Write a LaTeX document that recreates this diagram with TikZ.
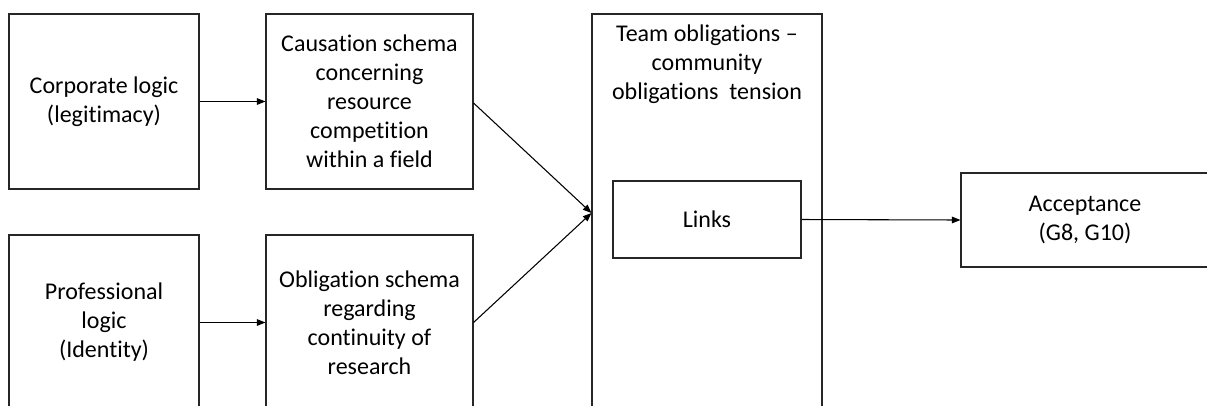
\documentclass[tikz,border=0pt]{standalone}
\usepackage{fontspec}
\setmainfont{Carlito}[Ligatures=NoCommon]
\usetikzlibrary{arrows.meta,calc}
\begin{document}
\begin{tikzpicture}[x=0.75pt,y=-0.75pt,
  every node/.style={font=\fontsize{18pt}{21.8pt}\selectfont},
  frame/.style 2 args={draw=black!85,line width=0.8pt,align=center,inner sep=0pt,
    minimum width={#1*0.75pt},minimum height={#2*0.75pt}},
  link/.style={draw=black,line width=0.8pt,-{Triangle[length=6.5pt,width=5pt]}}]
\useasboundingbox (0,0) rectangle (1207,405);
\clip (0,0) rectangle (1207,405);
% left column: institutional logics
\node[frame={190}{175}] (A) at (104,101.5) {Corporate logic\\(legitimacy)};
\node[frame={190}{175}] (B) at (104,322.5) {Professional\\logic\\(Identity)};
% middle column: schemas
\node[frame={207}{175}] (C) at (369.5,101.5) {Causation schema\\concerning\\resource\\competition\\within a field};
\node[frame={207}{175}] (D) at (369.5,322.5) {Obligation schema\\regarding\\continuity of\\research};
% tension frame with its inner box
\node[frame={230}{416}] (E) at (707,222) {};
\node[align=center,anchor=north] (Et) at (707,20) {Team obligations –\\community\\obligations\ \ tension};
\node[frame={188}{77}] (L) at (707,219.5) {Links};
% outcome
\node[frame={248}{94}] (R) at (1085,220) {Acceptance\\(G8, G10)};
% connectors
\path (E.west) ++(0,-9) coordinate (in);
\draw[link] (A.east) -- (C.west);
\draw[link] (B.east) -- (D.west);
\draw[link] ($(C.east)+(0,1.5)$) -- (in);
\draw[link] (D.east) -- (in);
\draw[link] (L.east) -- (R.west);
\end{tikzpicture}
\end{document}
